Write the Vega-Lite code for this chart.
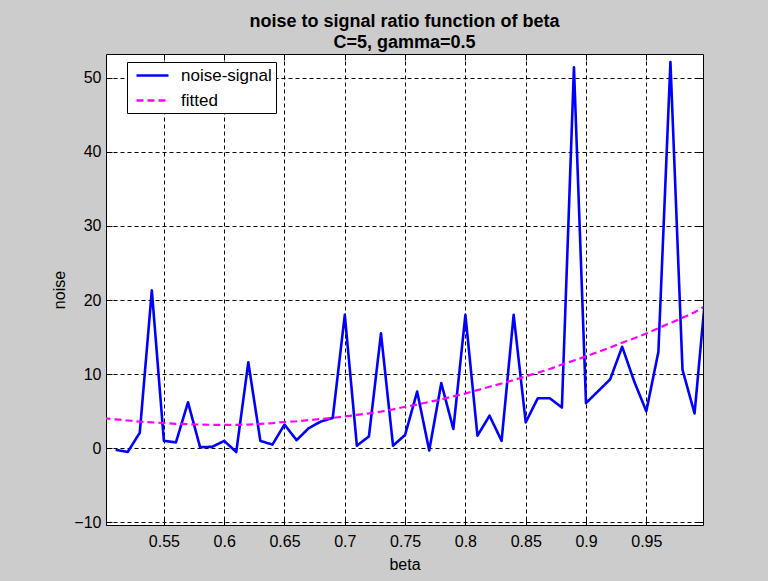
{
  "$schema": "https://vega.github.io/schema/vega-lite/v6.json",
  "width": 597,
  "height": 471,
  "autosize": {"type": "none"},
  "padding": {"left": 106, "top": 54, "right": 65, "bottom": 56},
  "background": "#cccccc",
  "title": {
    "text": ["noise to signal ratio function of beta", "C=5, gamma=0.5"],
    "font": "Liberation Sans",
    "fontSize": 18,
    "fontWeight": "bold",
    "color": "#000000",
    "lineHeight": 21,
    "anchor": "middle",
    "offset": 2
  },
  "datasets": {
    "signal": [
      {"beta": 0.51, "noise": -0.2, "series": "noise-signal"},
      {"beta": 0.52, "noise": -0.5, "series": "noise-signal"},
      {"beta": 0.53, "noise": 2.1, "series": "noise-signal"},
      {"beta": 0.54, "noise": 21.3, "series": "noise-signal"},
      {"beta": 0.55, "noise": 1.0, "series": "noise-signal"},
      {"beta": 0.56, "noise": 0.8, "series": "noise-signal"},
      {"beta": 0.57, "noise": 6.2, "series": "noise-signal"},
      {"beta": 0.58, "noise": 0.15, "series": "noise-signal"},
      {"beta": 0.59, "noise": 0.2, "series": "noise-signal"},
      {"beta": 0.60, "noise": 1.0, "series": "noise-signal"},
      {"beta": 0.61, "noise": -0.5, "series": "noise-signal"},
      {"beta": 0.62, "noise": 11.6, "series": "noise-signal"},
      {"beta": 0.63, "noise": 1.0, "series": "noise-signal"},
      {"beta": 0.64, "noise": 0.5, "series": "noise-signal"},
      {"beta": 0.65, "noise": 3.2, "series": "noise-signal"},
      {"beta": 0.66, "noise": 1.1, "series": "noise-signal"},
      {"beta": 0.67, "noise": 2.7, "series": "noise-signal"},
      {"beta": 0.68, "noise": 3.6, "series": "noise-signal"},
      {"beta": 0.69, "noise": 4.1, "series": "noise-signal"},
      {"beta": 0.70, "noise": 18.0, "series": "noise-signal"},
      {"beta": 0.71, "noise": 0.35, "series": "noise-signal"},
      {"beta": 0.72, "noise": 1.6, "series": "noise-signal"},
      {"beta": 0.73, "noise": 15.5, "series": "noise-signal"},
      {"beta": 0.74, "noise": 0.35, "series": "noise-signal"},
      {"beta": 0.75, "noise": 1.8, "series": "noise-signal"},
      {"beta": 0.76, "noise": 7.65, "series": "noise-signal"},
      {"beta": 0.77, "noise": -0.3, "series": "noise-signal"},
      {"beta": 0.78, "noise": 8.8, "series": "noise-signal"},
      {"beta": 0.79, "noise": 2.6, "series": "noise-signal"},
      {"beta": 0.80, "noise": 18.0, "series": "noise-signal"},
      {"beta": 0.81, "noise": 1.7, "series": "noise-signal"},
      {"beta": 0.82, "noise": 4.4, "series": "noise-signal"},
      {"beta": 0.83, "noise": 1.0, "series": "noise-signal"},
      {"beta": 0.84, "noise": 18.0, "series": "noise-signal"},
      {"beta": 0.85, "noise": 3.5, "series": "noise-signal"},
      {"beta": 0.86, "noise": 6.75, "series": "noise-signal"},
      {"beta": 0.87, "noise": 6.75, "series": "noise-signal"},
      {"beta": 0.88, "noise": 5.5, "series": "noise-signal"},
      {"beta": 0.89, "noise": 51.4, "series": "noise-signal"},
      {"beta": 0.90, "noise": 6.1, "series": "noise-signal"},
      {"beta": 0.91, "noise": 7.7, "series": "noise-signal"},
      {"beta": 0.92, "noise": 9.3, "series": "noise-signal"},
      {"beta": 0.93, "noise": 13.7, "series": "noise-signal"},
      {"beta": 0.94, "noise": 9.0, "series": "noise-signal"},
      {"beta": 0.95, "noise": 5.0, "series": "noise-signal"},
      {"beta": 0.96, "noise": 13.0, "series": "noise-signal"},
      {"beta": 0.97, "noise": 52.1, "series": "noise-signal"},
      {"beta": 0.98, "noise": 10.6, "series": "noise-signal"},
      {"beta": 0.99, "noise": 4.7, "series": "noise-signal"},
      {"beta": 1.00, "noise": 22.5, "series": "noise-signal"}
    ],
    "fit": [
      {"beta": 0.50, "noise": 4.05, "series": "fitted"},
      {"beta": 0.51, "noise": 3.9, "series": "fitted"},
      {"beta": 0.52, "noise": 3.75, "series": "fitted"},
      {"beta": 0.53, "noise": 3.6, "series": "fitted"},
      {"beta": 0.54, "noise": 3.5, "series": "fitted"},
      {"beta": 0.55, "noise": 3.4, "series": "fitted"},
      {"beta": 0.56, "noise": 3.3, "series": "fitted"},
      {"beta": 0.57, "noise": 3.25, "series": "fitted"},
      {"beta": 0.58, "noise": 3.2, "series": "fitted"},
      {"beta": 0.59, "noise": 3.17, "series": "fitted"},
      {"beta": 0.60, "noise": 3.15, "series": "fitted"},
      {"beta": 0.61, "noise": 3.17, "series": "fitted"},
      {"beta": 0.62, "noise": 3.2, "series": "fitted"},
      {"beta": 0.63, "noise": 3.3, "series": "fitted"},
      {"beta": 0.64, "noise": 3.4, "series": "fitted"},
      {"beta": 0.65, "noise": 3.55, "series": "fitted"},
      {"beta": 0.66, "noise": 3.65, "series": "fitted"},
      {"beta": 0.67, "noise": 3.8, "series": "fitted"},
      {"beta": 0.68, "noise": 3.95, "series": "fitted"},
      {"beta": 0.69, "noise": 4.1, "series": "fitted"},
      {"beta": 0.70, "noise": 4.3, "series": "fitted"},
      {"beta": 0.71, "noise": 4.5, "series": "fitted"},
      {"beta": 0.72, "noise": 4.7, "series": "fitted"},
      {"beta": 0.73, "noise": 4.95, "series": "fitted"},
      {"beta": 0.74, "noise": 5.25, "series": "fitted"},
      {"beta": 0.75, "noise": 5.6, "series": "fitted"},
      {"beta": 0.76, "noise": 5.9, "series": "fitted"},
      {"beta": 0.77, "noise": 6.25, "series": "fitted"},
      {"beta": 0.78, "noise": 6.6, "series": "fitted"},
      {"beta": 0.79, "noise": 7.0, "series": "fitted"},
      {"beta": 0.80, "noise": 7.4, "series": "fitted"},
      {"beta": 0.81, "noise": 7.85, "series": "fitted"},
      {"beta": 0.82, "noise": 8.3, "series": "fitted"},
      {"beta": 0.83, "noise": 8.75, "series": "fitted"},
      {"beta": 0.84, "noise": 9.2, "series": "fitted"},
      {"beta": 0.85, "noise": 9.7, "series": "fitted"},
      {"beta": 0.86, "noise": 10.2, "series": "fitted"},
      {"beta": 0.87, "noise": 10.7, "series": "fitted"},
      {"beta": 0.88, "noise": 11.3, "series": "fitted"},
      {"beta": 0.89, "noise": 11.85, "series": "fitted"},
      {"beta": 0.90, "noise": 12.4, "series": "fitted"},
      {"beta": 0.91, "noise": 13.0, "series": "fitted"},
      {"beta": 0.92, "noise": 13.6, "series": "fitted"},
      {"beta": 0.93, "noise": 14.25, "series": "fitted"},
      {"beta": 0.94, "noise": 14.85, "series": "fitted"},
      {"beta": 0.95, "noise": 15.5, "series": "fitted"},
      {"beta": 0.96, "noise": 16.2, "series": "fitted"},
      {"beta": 0.97, "noise": 16.9, "series": "fitted"},
      {"beta": 0.98, "noise": 17.6, "series": "fitted"},
      {"beta": 0.99, "noise": 18.35, "series": "fitted"},
      {"beta": 1.00, "noise": 19.3, "series": "fitted"}
    ]
  },
  "layer": [
    {
      "data": {"name": "signal"},
      "mark": {"type": "line", "strokeWidth": 2.6, "strokeJoin": "round", "clip": true},
      "encoding": {
        "x": {
          "field": "beta",
          "type": "quantitative",
          "scale": {"domain": [0.502, 0.997], "nice": false, "zero": false},
          "axis": {
            "orient": "bottom",
            "values": [0.55, 0.6, 0.65, 0.7, 0.75, 0.8, 0.85, 0.9, 0.95],
            "format": ".2~f",
            "title": "beta",
            "grid": true,
            "labelPadding": 14,
            "titlePadding": 7
          }
        },
        "y": {
          "field": "noise",
          "type": "quantitative",
          "scale": {"domain": [-10.35, 53.2], "nice": false, "zero": false},
          "axis": {
            "orient": "left",
            "values": [-10, 0, 10, 20, 30, 40, 50],
            "title": "noise",
            "grid": true,
            "labelPadding": 11,
            "titlePadding": 6
          }
        },
        "color": {
          "field": "series",
          "type": "nominal",
          "scale": {"domain": ["noise-signal", "fitted"], "range": ["#0000ff", "#ff00ff"]},
          "legend": {"title": null, "labelExpr": "datum.label + '\u00a0\u00a0\u00a0'"}
        },
        "strokeDash": {
          "field": "series",
          "type": "nominal",
          "scale": {"domain": ["noise-signal", "fitted"], "range": [[1, 0], [7, 4]]},
          "legend": {"title": null, "labelExpr": "datum.label + '\u00a0\u00a0\u00a0'"}
        }
      }
    },
    {
      "data": {"name": "fit"},
      "mark": {"type": "line", "strokeWidth": 2.2, "clip": true},
      "encoding": {
        "x": {
          "field": "beta",
          "type": "quantitative",
          "axis": {
            "orient": "top",
            "values": [0.55, 0.6, 0.65, 0.7, 0.75, 0.8, 0.85, 0.9, 0.95],
            "labels": false,
            "title": null,
            "grid": false
          }
        },
        "y": {
          "field": "noise",
          "type": "quantitative",
          "axis": {
            "orient": "right",
            "values": [-10, 0, 10, 20, 30, 40, 50],
            "labels": false,
            "title": null,
            "grid": false
          }
        },
        "color": {"field": "series", "type": "nominal", "legend": {"title": null, "labelExpr": "datum.label + '\u00a0\u00a0\u00a0'"}},
        "strokeDash": {"field": "series", "type": "nominal", "legend": {"title": null, "labelExpr": "datum.label + '\u00a0\u00a0\u00a0'"}}
      }
    }
  ],
  "resolve": {"axis": {"x": "independent", "y": "independent"}},
  "config": {
    "view": {"fill": "#ffffff", "stroke": "#000000", "strokeWidth": 1},
    "axis": {
      "domain": false,
      "ticks": true,
      "tickSize": -6,
      "tickColor": "#000000",
      "tickWidth": 1,
      "gridColor": "#000000",
      "gridDash": [4, 3],
      "gridOpacity": 1,
      "gridWidth": 1,
      "labelFont": "Liberation Sans",
      "labelFontSize": 16,
      "labelColor": "#000000",
      "labelFlush": false,
      "labelOverlap": false,
      "titleFont": "Liberation Sans",
      "titleFontSize": 16,
      "titleFontWeight": "normal",
      "titleColor": "#000000"
    },
    "legend": {
      "orient": "none",
      "legendX": 21,
      "legendY": 8,
      "direction": "vertical",
      "fillColor": "#ffffff",
      "strokeColor": "#000000",
      "padding": 4,
      "rowPadding": 7,
      "symbolType": "M-0.5,0H3.5",
      "symbolSize": 256,
      "symbolStrokeWidth": 2.5,
      "labelFont": "Liberation Sans",
      "labelFontSize": 17,
      "labelColor": "#000000",
      "labelOffset": 31
    }
  }
}
